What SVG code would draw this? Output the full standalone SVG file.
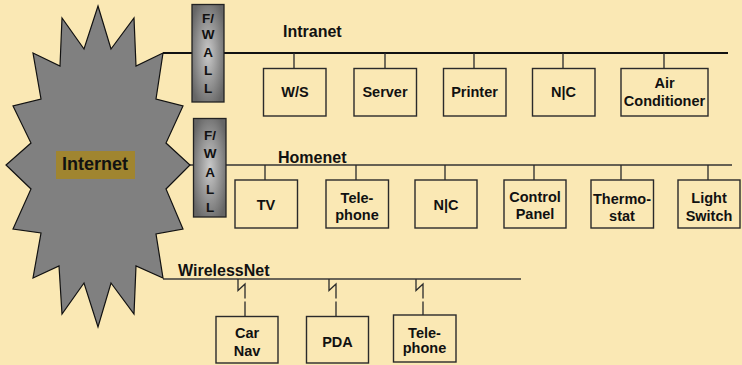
<svg xmlns="http://www.w3.org/2000/svg" width="742" height="365" viewBox="0 0 742 365">
<defs>
<radialGradient id="fw" cx="50%" cy="50%" r="60%">
<stop offset="0" stop-color="#cacaca"/>
<stop offset="1" stop-color="#666666"/>
</radialGradient>
</defs>
<style>
text{font-family:"Liberation Sans",Arial,sans-serif;font-weight:bold;fill:#111;}
.bx{fill:none;stroke:#2a2a2a;stroke-width:1.4;}
.t{font-size:14.5px;text-anchor:middle;}
.lbl{font-size:16px;}
.fwt{font-size:13.5px;text-anchor:middle;}
.fwr{fill:url(#fw);stroke:#222;stroke-width:1.3;}
.drop{stroke:#2a2a2a;stroke-width:1.3;fill:none;}
</style>
<rect width="742" height="365" fill="#FAE8B4"/>
<g id="connectors">
<line x1="163" y1="53" x2="728" y2="53" stroke="#111" stroke-width="2.2"/>
<line x1="190" y1="165" x2="732" y2="165" stroke="#333" stroke-width="1.3"/>
<line x1="163" y1="279" x2="521" y2="279" stroke="#3a3a3a" stroke-width="1.6"/>
<path class="drop" d="M294 53V68M385 53V68M474 53V68M563 53V68M664 53V68"/>
<path class="drop" d="M265 165V180M356 165V180M445 165V180M534 165V180M621 165V180M708 165V180"/>
<path class="drop" d="M238 279V290.5L245 284V298.5M245 301.5V316.5"/>
<path class="drop" d="M329 279V290.5L336 284V298.5M336 301.5V316.5"/>
<path class="drop" d="M416 279V290.5L423 284V298.5M423 301.5V315"/>
</g>
<g id="internet">
<polygon points="98,6 111,49 134,18 136,66 163,53 156,99 183,106 166,143 190,165 166,189 183,229 156,234 163,278 136,266 134,314 111,283 98,327 84,283 62,314 59,266 33,278 41,233 13,229 31,189 6,165 31,143 13,106 41,99 33,53 60,66 62,18 84,49" fill="#808080" stroke="#111" stroke-width="1.2"/>
<rect x="56" y="151" width="79" height="28" fill="#A08530"/>
<text x="95" y="170" style="font-size:18px;text-anchor:middle">Internet</text>
</g>
<g id="fwall1">
<rect class="fwr" x="192" y="4.5" width="32" height="97.5"/>
<text class="fwt" x="208" y="23">F/</text>
<text class="fwt" x="208" y="39">W</text>
<text class="fwt" x="208" y="57">A</text>
<text class="fwt" x="208" y="75">L</text>
<text class="fwt" x="208" y="93">L</text>
</g>
<g id="fwall2">
<rect class="fwr" x="193.5" y="118.5" width="32.5" height="98.5"/>
<text class="fwt" x="210" y="140">F/</text>
<text class="fwt" x="210" y="158">W</text>
<text class="fwt" x="210" y="177">A</text>
<text class="fwt" x="210" y="194">L</text>
<text class="fwt" x="210" y="212">L</text>
</g>
<g id="labels">
<text class="lbl" x="283" y="37">Intranet</text>
<text class="lbl" x="278" y="163">Homenet</text>
<text class="lbl" x="178" y="276">WirelessNet</text>
</g>
<g id="ws"><rect class="bx" x="263.5" y="68.5" width="62.5" height="47.5"/><text class="t" x="295" y="97">W/S</text></g>
<g id="server"><rect class="bx" x="354" y="68.5" width="62.5" height="47.5"/><text class="t" x="385" y="97">Server</text></g>
<g id="printer"><rect class="bx" x="443.5" y="68.5" width="62.5" height="47.5"/><text class="t" x="474.5" y="97">Printer</text></g>
<g id="nc1"><rect class="bx" x="532.5" y="68.5" width="62.5" height="47.5"/><text class="t" x="563.5" y="97">N|C</text></g>
<g id="aircon"><rect class="bx" x="621" y="68.5" width="87" height="47.5"/><text class="t" x="664.5" y="88">Air</text><text class="t" x="664.5" y="105.5">Conditioner</text></g>
<g id="tv"><rect class="bx" x="235" y="180" width="62.5" height="48"/><text class="t" x="266" y="210">TV</text></g>
<g id="telephone1"><rect class="bx" x="326" y="180" width="62.5" height="48"/><text class="t" x="357" y="203">Tele-</text><text class="t" x="357" y="219.5">phone</text></g>
<g id="nc2"><rect class="bx" x="415" y="180" width="62" height="48"/><text class="t" x="446" y="210">N|C</text></g>
<g id="controlpanel"><rect class="bx" x="504" y="180" width="62" height="48"/><text class="t" x="535" y="202">Control</text><text class="t" x="535" y="219">Panel</text></g>
<g id="thermostat"><rect class="bx" x="591" y="180" width="62.5" height="48"/><text class="t" x="622" y="204">Thermo-</text><text class="t" x="622" y="221">stat</text></g>
<g id="lightswitch"><rect class="bx" x="678" y="180" width="62" height="48"/><text class="t" x="709" y="203">Light</text><text class="t" x="709" y="221">Switch</text></g>
<g id="carnav"><rect class="bx" x="216" y="316.5" width="62" height="46.5"/><text class="t" x="247" y="338">Car</text><text class="t" x="247" y="356">Nav</text></g>
<g id="pda"><rect class="bx" x="306.5" y="316.5" width="62" height="46.5"/><text class="t" x="337.5" y="347">PDA</text></g>
<g id="telephone2"><rect class="bx" x="393.5" y="315" width="62.5" height="47"/><text class="t" x="424.5" y="338">Tele-</text><text class="t" x="424.5" y="353">phone</text></g>
</svg>
